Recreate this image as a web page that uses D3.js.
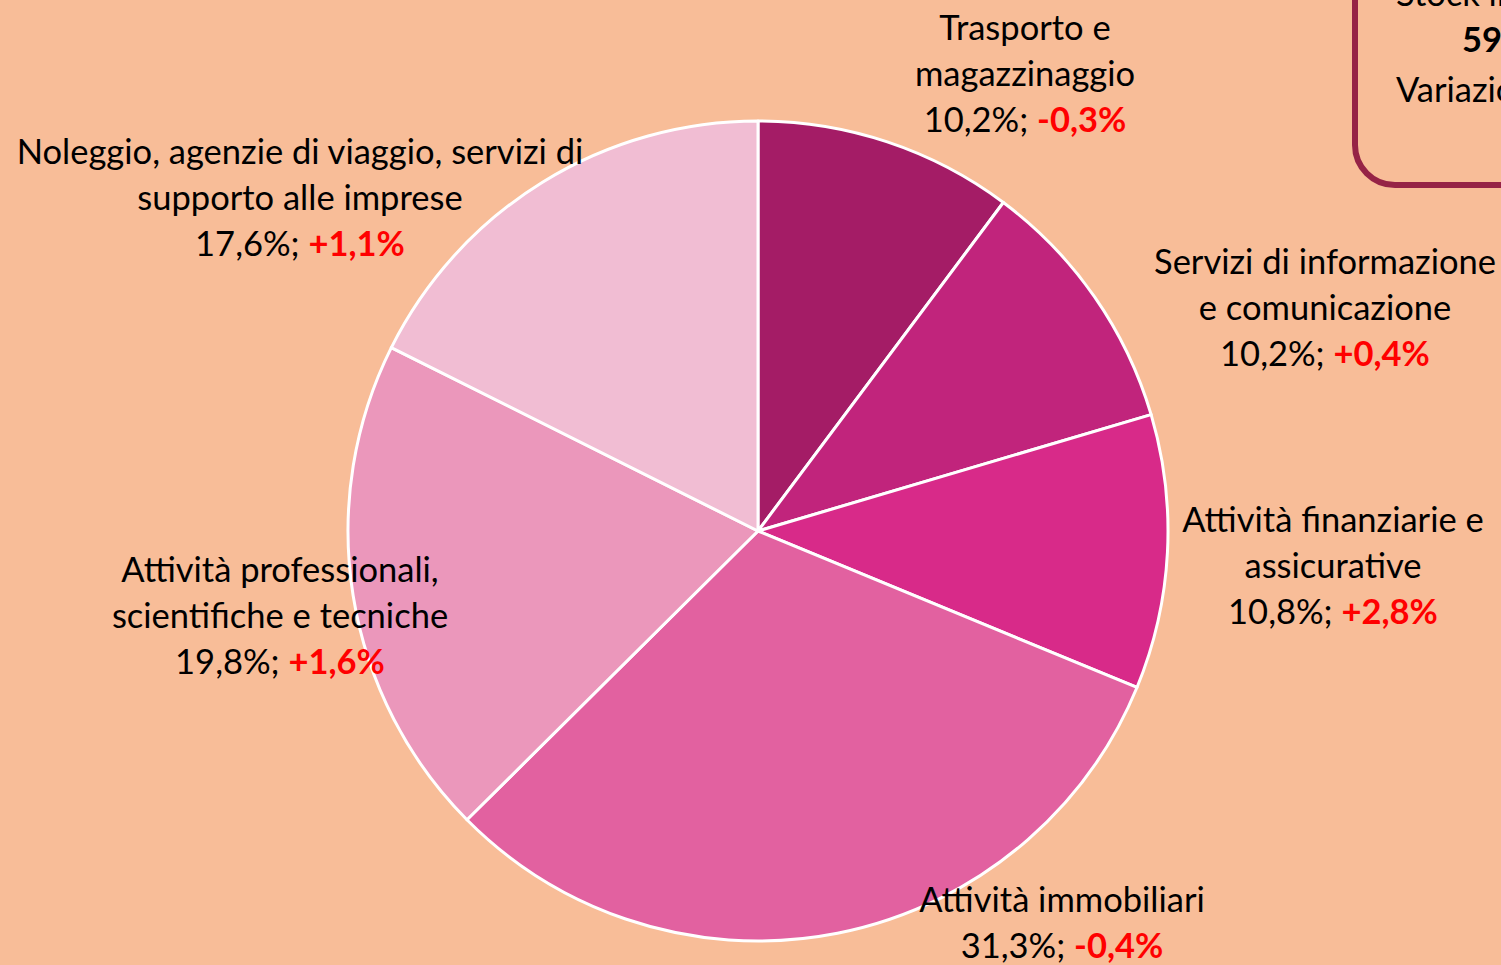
<!DOCTYPE html>
<html>
<head>
<meta charset="utf-8">
<script src="https://cdn.jsdelivr.net/npm/d3@7"></script>
<style>
  body { margin: 0; background: #F8BD98; overflow: hidden; }
  text { font-family: Lato, "Noto Sans", sans-serif; }
</style>
</head>
<body>
<div id="chart"></div>
<script>
// data
var sectors = ["Trasporto e magazzinaggio", "Servizi di informazione e comunicazione",
  "Attività finanziarie e assicurative", "Attività immobiliari",
  "Attività professionali, scientifiche e tecniche",
  "Noleggio, agenzie di viaggio, servizi di supporto alle imprese"];
var shares = [10.2, 10.2, 10.8, 31.3, 19.8, 17.6];
var changes = ["-0,3%", "+0,4%", "+2,8%", "-0,4%", "+1,6%", "+1,1%"];
var shareLabels = ["10,2%", "10,2%", "10,8%", "31,3%", "19,8%", "17,6%"];
var labelLines = [
  ["Trasporto e", "magazzinaggio"],
  ["Servizi di informazione", "e comunicazione"],
  ["Attività finanziarie e", "assicurative"],
  ["Attività immobiliari"],
  ["Attività professionali,", "scientifiche e tecniche"],
  ["Noleggio, agenzie di viaggio, servizi di", "supporto alle imprese"]
];
var colors = ["#A41C66", "#C1247C", "#D82A89", "#E261A0", "#EB97BB", "#F1BDD3"];

var width = 1501, height = 965;
var cx = 758, cy = 531, radius = 410;
var fontSize = 34.5, lineH = 46;

// where each label block sits (center x, first baseline)
var labelPos = [
  [1025, 40], [1325, 274], [1333, 532], [1062, 912], [280, 582], [300, 164]
];

var svg = d3.select("#chart")
  .append("svg")
    .attr("width", width)
    .attr("height", height);

var pie = d3.pie().sort(null).value(function(d) { return d; });
var arc = d3.arc().innerRadius(0).outerRadius(radius);

var g = svg.append("g")
  .attr("transform", "translate(" + cx + "," + cy + ")");

g.selectAll("path")
  .data(pie(shares))
  .enter()
  .append("path")
    .attr("d", arc)
    .attr("fill", function(d, i) { return colors[i]; })
    .attr("stroke", "#fff")
    .attr("stroke-width", 3)
    .attr("stroke-linejoin", "round");

// labels
sectors.forEach(function(s, i) {
  var t = svg.append("text")
    .attr("x", labelPos[i][0])
    .attr("y", labelPos[i][1])
    .attr("text-anchor", "middle")
    .style("font-size", fontSize + "px")
    .attr("fill", "#000");
  labelLines[i].forEach(function(line, j) {
    t.append("tspan")
      .attr("x", labelPos[i][0])
      .attr("dy", j == 0 ? 0 : lineH)
      .text(line);
  });
  var last = t.append("tspan")
    .attr("x", labelPos[i][0])
    .attr("dy", lineH)
    .text(shareLabels[i] + "; ");
  last.append("tspan")
    .attr("fill", "#FF0000")
    .attr("font-weight", "bold")
    .text(changes[i]);
});

// info box in the corner (cut by the page edge, as in the original)
svg.append("rect")
  .attr("x", 1355)
  .attr("y", -60)
  .attr("width", 260)
  .attr("height", 245)
  .attr("rx", 40)
  .attr("fill", "none")
  .attr("stroke", "#962346")
  .attr("stroke-width", 6);

svg.append("text")
  .attr("x", 1396).attr("y", 6)
  .style("font-size", fontSize + "px")
  .text("Stock imprese");
svg.append("text")
  .attr("x", 1462).attr("y", 52)
  .style("font-size", fontSize + "px")
  .attr("font-weight", "bold")
  .text("59 mila");
svg.append("text")
  .attr("x", 1396).attr("y", 102)
  .style("font-size", fontSize + "px")
  .text("Variazione");
</script>
</body>
</html>
